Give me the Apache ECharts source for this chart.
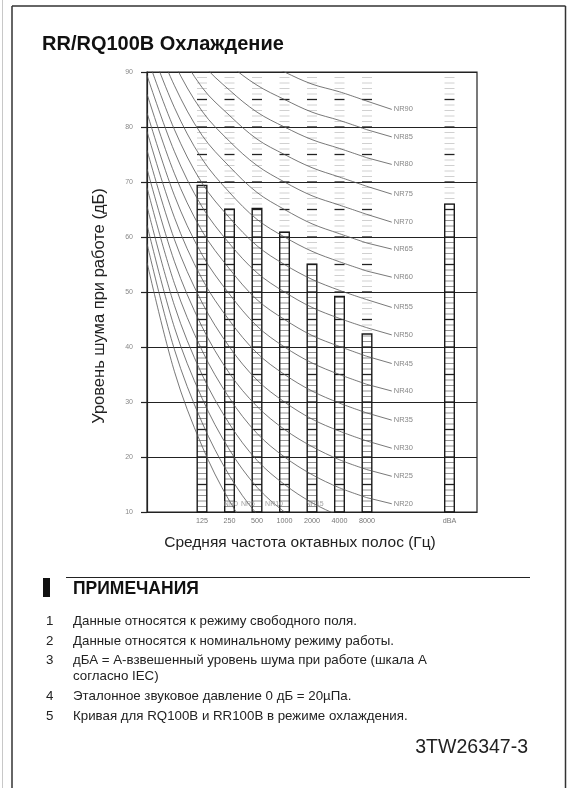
<!DOCTYPE html>
<html><head><meta charset="utf-8">
<script src="https://cdn.jsdelivr.net/npm/echarts@6/dist/echarts.min.js"></script>
<style>html,body{margin:0;padding:0;background:#fff}#c{width:567px;height:788px}</style>
</head><body><div id="c"></div>
<script>
// ---- data ----
const xTickLabels = ['', '', '125', '250', '500', '1000', '2000', '4000', '8000', '', '', 'dBA', ''];
const barBands = ['125', '250', '500', '1000', '2000', '4000', '8000', 'dBA'];
const barValues = [69.5, 65.2, 65.3, 61.0, 55.2, 49.3, 42.5, 66.1];
// NR curves read at octave bands 31.5, 63, 125, 250, 500, 1000, 2000, 4000, 8000 Hz
const nrBands = ['31.5', '63', '125', '250', '500', '1000', '2000', '4000', '8000'];
const nr0  = [55.4, 35.5, 22.0, 12.0, 4.8, 0, -3.5, -6.1, -8.0];
const nr5  = [58.8, 39.5, 26.3, 16.6, 9.6, 5, 1.6, -0.9, -2.8];
const nr10 = [62.2, 43.5, 30.7, 21.3, 14.5, 10, 6.6, 4.2, 2.3];
const nr15 = [65.6, 47.5, 35.0, 26.0, 19.4, 15, 11.7, 9.3, 7.4];
const nr20 = [69.0, 51.5, 39.4, 30.7, 24.3, 20, 16.8, 14.4, 12.6];
const nr25 = [72.4, 55.5, 43.7, 35.2, 29.2, 25, 21.9, 19.5, 17.7];
const nr30 = [75.8, 59.5, 48.1, 40.0, 34.0, 30, 26.9, 24.7, 22.9];
const nr35 = [79.2, 63.5, 52.4, 44.8, 38.9, 35, 32.0, 29.8, 28.0];
const nr40 = [82.6, 67.5, 56.8, 49.6, 43.8, 40, 37.1, 35.0, 33.2];
const nr45 = [86.0, 71.5, 61.1, 54.2, 48.6, 45, 42.1, 40.1, 38.3];
const nr50 = [89.4, 75.5, 65.5, 58.8, 53.5, 50, 47.2, 45.2, 43.5];
const nr55 = [92.8, 79.5, 69.8, 63.5, 58.4, 55, 52.3, 50.3, 48.6];
const nr60 = [96.2, 83.5, 74.2, 68.1, 63.2, 60, 57.4, 55.5, 53.8];
const nr65 = [99.6, 87.5, 78.5, 72.8, 68.1, 65, 62.4, 60.6, 58.9];
const nr70 = [103.0, 91.5, 82.9, 77.4, 73.0, 70, 67.5, 65.8, 64.1];
const nr75 = [106.4, 95.5, 87.2, 82.1, 77.8, 75, 72.6, 70.9, 69.2];
const nr80 = [109.8, 99.5, 91.6, 86.7, 82.7, 80, 77.7, 76.1, 74.4];
const nr85 = [113.2, 103.5, 95.9, 91.3, 87.6, 85, 82.7, 81.2, 79.5];
const nr90 = [116.6, 107.5, 100.3, 96.0, 92.5, 90, 87.8, 86.4, 84.7];
const nrNames = ['NR0','NR5','NR10','NR15','NR20','NR25','NR30','NR35','NR40','NR45','NR50','NR55','NR60','NR65','NR70','NR75','NR80','NR85','NR90'];
const nrCurves = [nr0,nr5,nr10,nr15,nr20,nr25,nr30,nr35,nr40,nr45,nr50,nr55,nr60,nr65,nr70,nr75,nr80,nr85,nr90];
// labels at right end (leader ends) for NR20..NR90
const nrRightLabelValues = [11.5, 16.5, 21.6, 26.7, 32.0, 37.0, 42.2, 47.2, 52.7, 57.8, 62.7, 67.8, 73.2, 78.2, 83.2];
const nrBottomLabels = ['NR0', 'NR5', 'NR10', 'NR15'];
const nrBottomLabelX = [3.05, 3.67, 4.62, 6.1];
const nrBottomLabelY = [11.4, 11.4, 11.4, 11.4];
const yMin = 10, yMax = 90, yStep = 10;

const notes = [
  ['1', 'Данные относятся к режиму свободного поля.'],
  ['2', 'Данные относятся к номинальному режиму работы.'],
  ['3', 'дБА = А-взвешенный уровень шума при работе (шкала А'],
  ['', 'согласно IEC)'],
  ['4', 'Эталонное звуковое давление 0 дБ = 20µПа.'],
  ['5', 'Кривая для RQ100B и RR100B в режиме охлаждения.']
];

// ---- build ----
const FONT = '"Liberation Sans", Arial, sans-serif';
const chart = echarts.init(document.getElementById('c'));
const barIdx = barBands.map(b => xTickLabels.indexOf(b));
const columnData = barIdx.map((k, i) => [k, barValues[i]]);
const barData = xTickLabels.map(() => null);
barIdx.forEach((k, i) => { barData[k] = barValues[i]; });

const series = [];
series.push({
  type: 'custom', xAxisIndex: 0, yAxisIndex: 0, silent: true, z: 2,
  data: columnData,
  renderItem: function (params, api) {
    const k = api.value(0), val = api.value(1);
    const children = [];
    for (let v = yMin + 1; v < yMax; v++) {
      const p = api.coord([k, v]);
      const major = v % 5 === 0;
      const inside = v < val;
      children.push({
        type: 'line',
        shape: { x1: p[0] - 5, y1: p[1], x2: p[0] + 5, y2: p[1] },
        style: { stroke: major ? '#222' : (inside ? '#777' : '#c4c4c4'), lineWidth: major ? 1.3 : 0.8 }
      });
    }
    return { type: 'group', children: children };
  }
});
series.push({
  type: 'bar', xAxisIndex: 0, yAxisIndex: 0, data: barData, barWidth: 11, z: 3, silent: true,
  itemStyle: { color: 'rgba(0,0,0,0)', borderColor: '#1a1a1a', borderWidth: 1.4 }
});
nrCurves.forEach((c, i) => {
  series.push({
    type: 'line', name: nrNames[i], xAxisIndex: 1, yAxisIndex: 0, z: 4, silent: true,
    data: c.map((v, j) => [j, v]), smooth: 0.35, symbol: 'none',
    lineStyle: { color: '#555', width: 0.8 }
  });
});
nrRightLabelValues.forEach((lv, i) => {
  const c = nrCurves[i + 4];
  series.push({
    type: 'line', name: nrNames[i + 4] + ' leader', xAxisIndex: 1, yAxisIndex: 0, z: 4, silent: true,
    data: [[8, c[8]], [8.9, lv]], symbol: 'none',
    lineStyle: { color: '#555', width: 0.8 },
    endLabel: { show: true, formatter: nrNames[i + 4], color: '#888', fontSize: 7.5, fontFamily: FONT, distance: 2 }
  });
});
series.push({
  type: 'scatter', xAxisIndex: 1, yAxisIndex: 0, z: 5, silent: true, symbolSize: 1,
  itemStyle: { color: 'rgba(0,0,0,0)' },
  data: nrBottomLabels.map((n, i) => ({ name: n, value: [nrBottomLabelX[i], nrBottomLabelY[i]] })),
  label: { show: true, position: 'inside', formatter: '{b}', color: '#888', fontSize: 7, fontFamily: FONT }
});

const graphics = [
  { type: 'line', shape: { x1: 2.5, y1: 0, x2: 2.5, y2: 788 }, style: { stroke: '#c8c8c8', lineWidth: 1 } },
  { type: 'line', shape: { x1: 12, y1: 6, x2: 12, y2: 788 }, style: { stroke: '#333', lineWidth: 1.5 } },
  { type: 'line', shape: { x1: 12, y1: 6, x2: 565.5, y2: 6 }, style: { stroke: '#333', lineWidth: 1.5 } },
  { type: 'line', shape: { x1: 565.5, y1: 6, x2: 565.5, y2: 788 }, style: { stroke: '#333', lineWidth: 1.5 } },
  { type: 'text', x: 42, y: 44, style: { text: 'RR/RQ100B Охлаждение', font: 'bold 20px ' + FONT, fill: '#111', verticalAlign: 'middle' } },
  { type: 'text', x: 99, y: 306, rotation: Math.PI / 2, style: { text: 'Уровень шума при работе (дБ)', font: '16.5px ' + FONT, fill: '#222', align: 'center', verticalAlign: 'middle' } },
  { type: 'text', x: 300, y: 543, style: { text: 'Средняя частота октавных полос (Гц)', font: '15.5px ' + FONT, fill: '#222', align: 'center', verticalAlign: 'middle' } },
  { type: 'rect', shape: { x: 43, y: 578, width: 7, height: 19 }, style: { fill: '#111' } },
  { type: 'line', shape: { x1: 66, y1: 577.5, x2: 530, y2: 577.5 }, style: { stroke: '#222', lineWidth: 1.2 } },
  { type: 'text', x: 73, y: 589, style: { text: 'ПРИМЕЧАНИЯ', font: 'bold 17.5px ' + FONT, fill: '#111', verticalAlign: 'middle' } },
  { type: 'text', x: 528, y: 748, style: { text: '3TW26347-3', font: '19.5px ' + FONT, fill: '#222', align: 'right', verticalAlign: 'middle' } }
];
const noteY = [621, 641, 660, 676, 696, 716];
notes.forEach((n, i) => {
  if (n[0]) graphics.push({ type: 'text', x: 46, y: noteY[i], style: { text: n[0], font: '13.3px ' + FONT, fill: '#222', verticalAlign: 'middle' } });
  graphics.push({ type: 'text', x: 73, y: noteY[i], style: { text: n[1], font: '13.3px ' + FONT, fill: '#222', verticalAlign: 'middle' } });
});

chart.setOption({
  animation: false,
  backgroundColor: '#fff',
  grid: { left: 147, top: 72, width: 330, height: 440, show: true, borderColor: '#222', borderWidth: 1.2, containLabel: false },
  xAxis: [
    { type: 'category', data: xTickLabels, boundaryGap: false,
      axisLine: { lineStyle: { color: '#222', width: 1.2 } }, axisTick: { show: false },
      axisLabel: { interval: 0, fontSize: 7.2, color: '#777', margin: 6, fontFamily: FONT }, splitLine: { show: false } },
    { type: 'value', min: 0, max: 12, show: false, splitLine: { show: false } }
  ],
  yAxis: { type: 'value', min: yMin, max: yMax, interval: yStep,
    axisLine: { show: true, lineStyle: { color: '#222', width: 1.2 } },
    axisTick: { show: true, length: 6, lineStyle: { color: '#222', width: 1.2 } },
    axisLabel: { fontSize: 7, color: '#888', margin: 14, fontFamily: FONT },
    splitLine: { show: true, lineStyle: { color: '#222', width: 1.2 } } },
  series: series,
  graphic: graphics
});
</script></body></html>
